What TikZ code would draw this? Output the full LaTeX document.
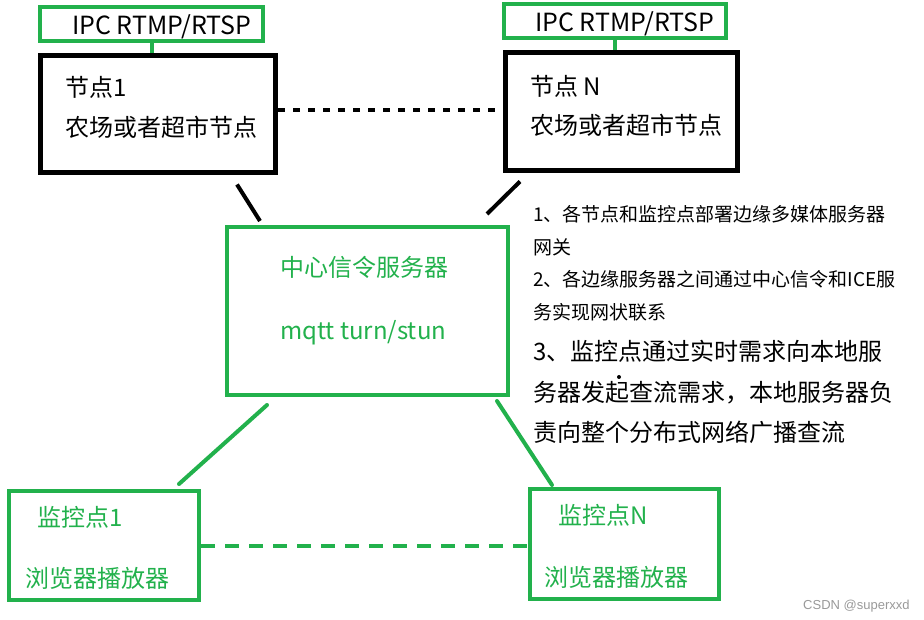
\documentclass[tikz,border=0pt]{standalone}
\usepackage{fontspec}
\newfontfamily\cjk{Noto Sans CJK SC}
\newfontfamily\wmark{Liberation Sans}
\usepackage{tikz}
\definecolor{paint}{HTML}{22B14C}
\tikzset{
  % --- boxes -----------------------------------------------------------------
  box/.style={rectangle,draw,inner sep=0pt},
  edgebox/.style={box,draw=black,line width=5pt},
  ipcbox/.style={box,draw=paint,line width=4pt},
  srvbox/.style={box,draw=paint,line width=4pt},
  monbox/.style={box,draw=paint,line width=4pt},
  % --- texts -----------------------------------------------------------------
  lbl/.style={inner sep=0pt,anchor=base west,
              font=\cjk\fontsize{24pt}{28pt}\selectfont},
  glbl/.style={lbl,text=paint},
  note/.style={lbl,font=\cjk\fontsize{19pt}{22pt}\selectfont},
  wm/.style={inner sep=0pt,anchor=base west,text=black!40,
             font=\wmark\fontsize{13pt}{15pt}\selectfont},
  % --- links -----------------------------------------------------------------
  blink/.style={black,line width=4pt},
  glink/.style={paint,line width=4pt},
  bdash/.style={blink,line width=4.5pt,dash pattern=on 7pt off 8pt},
  gdash/.style={glink,dash pattern=on 14pt off 10pt},
}

\begin{document}
\begin{tikzpicture}[x=1pt, y=-1pt]
  \useasboundingbox (0,0) rectangle (924,620);
  % --- edge nodes and their cameras -----------------------------------------
  \node[ipcbox,minimum width=223pt,minimum height=34pt]  (ipc1) at (151.7,24) {};
  \node[ipcbox,minimum width=222pt,minimum height=34pt]  (ipc2) at (615,21) {};
  \node[edgebox,minimum width=235pt,minimum height=117pt] (n1) at (158,114) {};
  \node[edgebox,minimum width=232pt,minimum height=118pt] (nN) at (621.5,111.5) {};

  \node[lbl,font=\cjk\fontsize{25pt}{28pt}\selectfont] (ipc1t) at (72,35) {IPC RTMP/RTSP};
  \node[lbl,font=\cjk\fontsize{25pt}{28pt}\selectfont] (ipc2t) at (535,32) {IPC RTMP/RTSP};
  \node[lbl] (n1a) at (65,97)  {节点1};
  \node[lbl] (n1b) at (65,137) {农场或者超市节点};
  \node[lbl] (nNa) at (530,96)  {节点 N};
  \node[lbl] (nNb) at (530,135) {农场或者超市节点};

  % --- signalling server ------------------------------------------------------
  \node[srvbox,minimum width=281pt,minimum height=168pt] (srv) at (367.5,311) {};
  \node[glbl] (srva) at (280,277) {中心信令服务器};
  \node[glbl] (srvb) at (280,340) {mqtt turn/stun};

  % --- monitoring points ------------------------------------------------------
  \node[monbox,minimum width=190pt,minimum height=109pt] (m1) at (104,545.5) {};
  \node[monbox,minimum width=189pt,minimum height=110pt] (mN) at (624.5,544) {};
  \node[glbl] (m1a) at (37,526) {监控点1};
  \node[glbl] (m1b) at (25,587) {浏览器播放器};
  \node[glbl] (mNa) at (558,524) {监控点N};
  \node[glbl] (mNb) at (544,586) {浏览器播放器};

  % --- notes ------------------------------------------------------------------
  \node[note] (t1a) at (533,222) {1、各节点和监控点部署边缘多媒体服务器};
  \node[note] (t1b) at (533,255) {网关};
  \node[note] (t2a) at (533,287) {2、各边缘服务器之间通过中心信令和ICE服};
  \node[note] (t2b) at (533,320) {务实现网状联系};
  \node[lbl]  (t3a) at (533,361) {3、监控点通过实时需求向本地服};
  \node[lbl]  (t3b) at (533,401) {务器发起查流需求，本地服务器负};
  \node[lbl]  (t3c) at (533,441) {责向整个分布式网络广播查流};
  \node[circle,fill,inner sep=0pt,minimum size=4pt] (dot) at (619,377) {};
  \node[wm] (mark) at (803,609) {CSDN @superxxd};

  % --- links ------------------------------------------------------------------
  \draw[glink] (ipc1.south) -- (ipc1.south |- n1.north);
  \draw[glink] (ipc2.south) -- (ipc2.south |- nN.north);
  \draw[bdash] ([yshift=4pt]n1.east) -- ([yshift=1.5pt]nN.west);
  \draw[blink] ([shift={(79,9.5)}]n1.south) -- ([shift={(-107.5,-4)}]srv.north);
  \draw[blink] ([shift={(-101.5,8.5)}]nN.south) -- ([shift={(119.5,-11)}]srv.north);
  \draw[glink,line cap=round] ([shift={(-100.5,8)}]srv.south) -- ([shift={(75,-5)}]m1.north);
  \draw[glink,line cap=round] ([shift={(129.5,4)}]srv.south) -- ([shift={(-72.5,-2)}]mN.north);
  \draw[gdash] ([yshift=-0.5pt]m1.east) -- ([yshift=-0.5pt]m1.east -| mN.west);
\end{tikzpicture}
\end{document}
